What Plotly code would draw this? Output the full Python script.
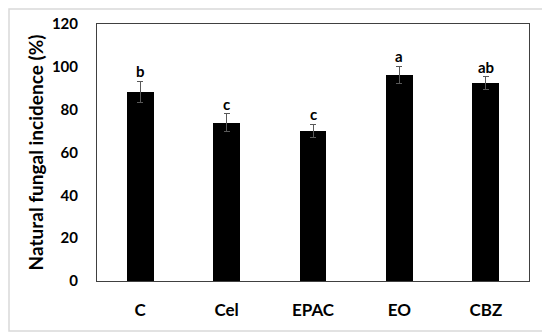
import plotly.graph_objects as go

categories = ["C", "Cel", "EPAC", "EO", "CBZ"]
values = [88.3, 73.9, 70.2, 96.3, 92.4]
errors = [5.0, 4.2, 3.0, 4.0, 3.0]
letters = ["b", "c", "c", "a", "ab"]
y_ticks = [0, 20, 40, 60, 80, 100, 120]

FONT = "Lato"
# page body has an 8px margin; figure is sized/offset to compensate
W, H = 542, 328
L, R, T, B = 89, 21, 16, 55
PW, PH = W - L - R, H - T - B

fig = go.Figure()
fig.add_trace(go.Bar(
    x=categories, y=values,
    marker=dict(color="black", line=dict(width=0)),
    width=0.31,
    error_y=dict(type="data", array=errors, visible=True,
                 color="#595959", thickness=1, width=3),
))

for c, v, e, l in zip(categories, values, errors, letters):
    fig.add_annotation(x=c, y=v + e, text="<b>%s</b>" % l, showarrow=False,
                       yanchor="bottom", yshift=-1,
                       font=dict(family=FONT, size=15, color="black"))

# outer frame
fig.add_shape(type="rect", xref="paper", yref="paper",
              x0=(1 - L) / PW, x1=(537 - L) / PW,
              y0=(H - B - 323) / PH, y1=(H - B - 1) / PH,
              line=dict(color="#d9d9d9", width=1.5), layer="below")

fig.update_layout(
    width=W, height=H,
    margin=dict(l=L, r=R, t=T, b=B, autoexpand=False),
    paper_bgcolor="white", plot_bgcolor="rgba(0,0,0,0)",
    showlegend=False,
    font=dict(family=FONT, color="black"),
    bargap=0,
)
fig.update_xaxes(
    automargin=False,
    showline=True, linecolor="#404040", linewidth=1, mirror=True,
    ticks="", tickfont=dict(family=FONT, size=17, color="black", weight="bold"),
    ticklabelstandoff=14,
)
fig.update_yaxes(
    automargin=False,
    range=[0, 120], tickvals=y_ticks,
    showline=True, linecolor="#404040", linewidth=1, mirror=True,
    showgrid=False, zeroline=False, ticks="",
    tickfont=dict(family=FONT, size=15, color="black", weight="bold"),
    ticklabelstandoff=15,
    title=dict(text="<b>Natural fungal incidence (%)</b>",
               font=dict(family=FONT, size=19, color="black"), standoff=3),
)

fig.write_html("out.html")
